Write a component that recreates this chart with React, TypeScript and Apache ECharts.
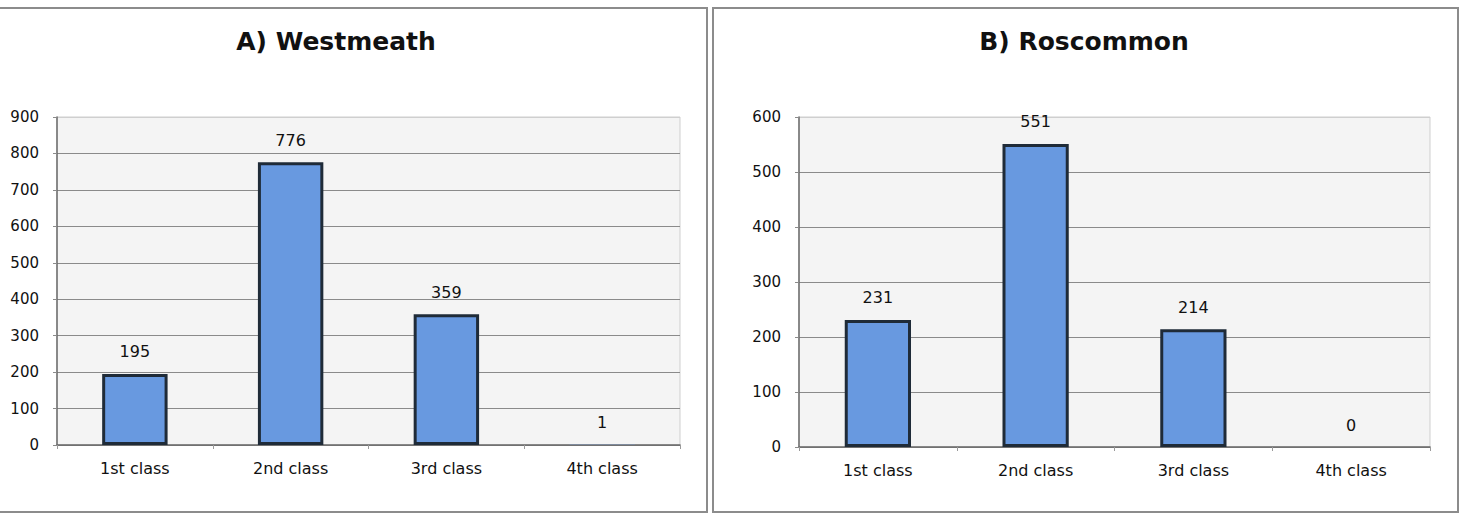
import React, { useEffect, useRef } from "react";
import * as echarts from "echarts";

const categories = ["1st class", "2nd class", "3rd class", "4th class"];
const westmeathValues = [195, 776, 359, 1];
const roscommonValues = [231, 551, 214, 0];
const titles = ["A) Westmeath", "B) Roscommon"];
const westmeathMax = 900;
const roscommonMax = 600;

const FONT = "'DejaVu Sans', 'Liberation Sans', Arial, sans-serif";

function splitColors(max: number) {
  const n = max / 100 + 1;
  const arr: string[] = [];
  for (let i = 0; i < n; i++) arr.push(i === n - 1 ? "#cfcfcf" : "#8a8a8a");
  return arr;
}

export default function App() {
  const ref = useRef<HTMLDivElement>(null);
  useEffect(() => {
    if (!ref.current) return;
    const chart = echarts.init(ref.current, null, { renderer: "svg" });
    const grids = [
      { left: 57, right: 786, top: 117, bottom: 69 },
      { left: 799, right: 36, top: 117, bottom: 67 },
    ].map((g) => ({
      ...g,
      show: true,
      backgroundColor: "#f4f4f4",
      borderColor: "#cfcfcf",
      borderWidth: 1,
      outerBoundsMode: "none",
      containLabel: false,
    }));
    const maxes = [westmeathMax, roscommonMax];
    const seriesData = [westmeathValues, roscommonValues];
    const option: any = {
      animation: false,
      backgroundColor: "#ffffff",
      grid: grids,
      xAxis: [0, 1].map((i) => ({
        type: "category",
        gridIndex: i,
        data: categories,
        axisLine: { show: true, lineStyle: { color: "#6a6a6a", width: 1.5 } },
        axisTick: { show: true, length: 4, lineStyle: { color: "#9a9a9a" } },
        axisLabel: {
          color: "#111111",
          fontFamily: FONT,
          fontSize: 16,
          margin: 15,
        },
        splitLine: { show: false },
      })),
      yAxis: [0, 1].map((i) => ({
        type: "value",
        gridIndex: i,
        min: 0,
        max: maxes[i],
        interval: 100,
        axisLine: { show: true, lineStyle: { color: "#6a6a6a", width: 1.5 } },
        axisTick: { show: true, length: 4, lineStyle: { color: "#8a8a8a" } },
        axisLabel: {
          color: "#111111",
          fontFamily: FONT,
          fontSize: 15,
          margin: 18,
        },
        splitLine: {
          show: true,
          lineStyle: { color: splitColors(maxes[i]), width: 1 },
        },
      })),
      series: [0, 1].map((i) => ({
        type: "bar",
        xAxisIndex: i,
        yAxisIndex: i,
        data: seriesData[i].map((v) => ({
          value: v,
          itemStyle: { borderWidth: v < 5 ? 0 : 3 },
        })),
        barWidth: "42%",
        itemStyle: {
          color: "#6899e0",
          borderColor: "#1f2b38",
          borderWidth: 3,
        },
        label: {
          show: true,
          position: "top",
          distance: 14,
          color: "#111111",
          fontFamily: FONT,
          fontSize: 16,
        },
      })),
      graphic: [
        {
          type: "rect",
          shape: { x: -30, y: 8, width: 737, height: 504 },
          style: { fill: "none", stroke: "#8c8c8c", lineWidth: 2 },
          z: 100,
          silent: true,
        },
        {
          type: "rect",
          shape: { x: 713, y: 8, width: 745, height: 504 },
          style: { fill: "none", stroke: "#8c8c8c", lineWidth: 2 },
          z: 100,
          silent: true,
        },
        {
          type: "text",
          x: 336,
          y: 41,
          style: {
            text: titles[0],
            align: "center",
            verticalAlign: "middle",
            fill: "#111111",
            font: `bold 25px ${FONT}`,
          },
        },
        {
          type: "text",
          x: 1084,
          y: 41,
          style: {
            text: titles[1],
            align: "center",
            verticalAlign: "middle",
            fill: "#111111",
            font: `bold 25px ${FONT}`,
          },
        },
      ],
    };
    chart.setOption(option);
    return () => chart.dispose();
  }, []);
  return (
    <div
      ref={ref}
      style={{ position: "absolute", left: 0, top: 0, width: 1466, height: 514 }}
    />
  );
}
